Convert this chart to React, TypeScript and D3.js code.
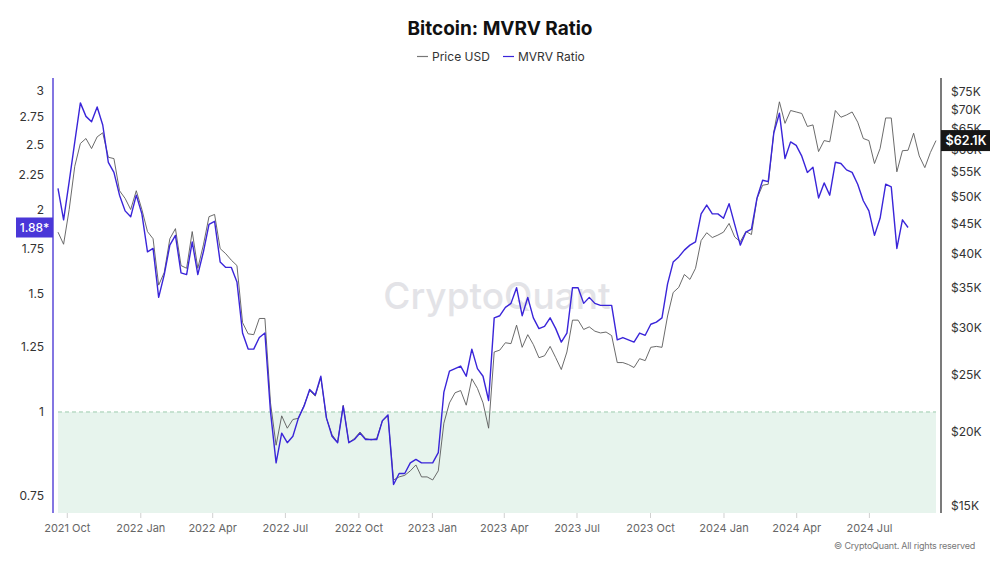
import React, { useEffect, useRef } from 'react'
import * as d3 from 'd3'

const W = 1000
const H = 563

// weekly samples, first one on this date
const startDate = '2021-09-20'
const stepDays = 7

const mvrvRatio = [
  2.15, 1.93, 2.20, 2.52, 2.88, 2.75, 2.70, 2.84, 2.67, 2.35,
  2.27, 2.10, 1.99, 1.95, 2.10, 1.97, 1.73, 1.75, 1.48, 1.60,
  1.77, 1.83, 1.61, 1.60, 1.79, 1.60, 1.73, 1.90, 1.92, 1.67,
  1.64, 1.64, 1.56, 1.31, 1.24, 1.24, 1.29, 1.31, 1.00, 0.84,
  0.93, 0.90, 0.92, 0.98, 1.02, 1.08, 1.06, 1.13, 0.98, 0.92,
  0.90, 1.02, 0.90, 0.91, 0.93, 0.91, 0.91, 0.91, 0.97, 0.99,
  0.78, 0.81, 0.81, 0.84, 0.85, 0.84, 0.84, 0.84, 0.87, 1.07,
  1.15, 1.16, 1.17, 1.13, 1.24, 1.16, 1.13, 1.04, 1.38, 1.39,
  1.43, 1.45, 1.53, 1.39, 1.48, 1.38, 1.33, 1.34, 1.38, 1.33,
  1.27, 1.31, 1.53, 1.53, 1.45, 1.48, 1.45, 1.44, 1.44, 1.44,
  1.28, 1.29, 1.28, 1.27, 1.31, 1.30, 1.35, 1.36, 1.38, 1.55,
  1.67, 1.70, 1.74, 1.77, 1.79, 1.97, 2.03, 1.97, 1.97, 1.94,
  2.04, 1.90, 1.77, 1.85, 1.87, 2.08, 2.21, 2.20, 2.60, 2.78,
  2.38, 2.52, 2.49, 2.40, 2.27, 2.31, 2.08, 2.19, 2.10, 2.35,
  2.34, 2.29, 2.27, 2.18, 2.06, 1.99, 1.83, 1.94, 2.18, 2.16,
  1.75, 1.93, 1.88,
]

const priceUsd = [
  43500, 41500, 47500, 56200, 61400, 62600, 60200, 63000, 64000, 58200,
  57900, 51100, 49600, 47500, 51100, 47500, 43600, 42400, 35400, 37200,
  42400, 44100, 38200, 37800, 43600, 37800, 41400, 46200, 46600, 40800,
  40000, 39000, 38200, 30600, 29300, 29200, 31100, 31100, 22400, 19000,
  21300, 20300, 21000, 21100, 22200, 23500, 23000, 24700, 21100, 19800,
  19200, 22200, 19200, 19500, 20000, 19500, 19400, 19500, 20900, 21300,
  16600, 16800, 16900, 17200, 17600, 16800, 16800, 16600, 17200, 20700,
  22400, 23300, 23500, 22200, 24600, 23700, 22400, 20300, 27300, 27500,
  28300, 28200, 30300, 27800, 29200, 28100, 26700, 26900, 27900, 26700,
  25500, 27300, 30900, 30900, 29800, 30100, 29600, 29400, 29500, 29100,
  26200, 26200, 26000, 25700, 26600, 26400, 27800, 27900, 27800, 31400,
  34400, 35100, 36900, 36200, 37800, 42100, 43400, 42600, 43000, 43500,
  45000, 42700, 41900, 43600, 43100, 49600, 52200, 52400, 64200, 72200,
  66400, 69800, 69400, 69000, 65600, 66000, 59500, 62100, 61800, 69800,
  68000, 68600, 69400, 66700, 62600, 62100, 56800, 60200, 67800, 67800,
  55000, 59700, 59800, 63900, 58500, 55900, 59300, 62100,
]

const seriesNames = ['Price USD', 'MVRV Ratio']
const mvrvTicks = [0.75, 1, 1.25, 1.5, 1.75, 2, 2.25, 2.5, 2.75, 3]
const priceTicks = [15000, 20000, 25000, 30000, 35000, 40000, 45000, 50000, 55000, 60000, 65000, 70000, 75000]
const dateTicks = [
  '2021-10-01', '2022-01-01', '2022-04-01', '2022-07-01', '2022-10-01', '2023-01-01',
  '2023-04-01', '2023-07-01', '2023-10-01', '2024-01-01', '2024-04-01', '2024-07-01',
]

const FONT = 'Inter, "Open Sans", "DejaVu Sans", sans-serif'
const BLUE = '#3a25d9'
const GREY = '#5a5a5a'

const App = () => {
  const ref = useRef(null)

  useEffect(() => {
    const svg = d3.select(ref.current)
    svg.selectAll('*').remove()

    const parse = d3.timeParse('%Y-%m-%d')
    const t0 = parse(startDate)
    const dates = priceUsd.map((_, i) => d3.timeDay.offset(t0, i * stepDays))

    const plot = { left: 58, right: 936, top: 78, bottom: 513 }

    const x = d3.scaleTime()
      .domain([dates[0], dates[dates.length - 1]])
      .range([plot.left, plot.right])
    const yM = d3.scaleLog().domain([0.7076, 3.136]).range([plot.bottom, plot.top])
    const yP = d3.scaleLog().domain([14600, 79200]).range([plot.bottom, plot.top])

    svg.append('rect').attr('width', W).attr('height', H).attr('fill', '#fff')

    // title + legend
    svg.append('text')
      .attr('x', 500).attr('y', 35)
      .attr('text-anchor', 'middle')
      .style('font', `700 19px ${FONT}`)
      .attr('fill', '#111')
      .text('Bitcoin: MVRV Ratio')

    const legend = svg.append('g').style('font', `400 12px ${FONT}`)
    const legendItems = [
      { name: seriesNames[0], color: '#777', x: 417 },
      { name: seriesNames[1], color: BLUE, x: 503 },
    ]
    legendItems.forEach(d => {
      legend.append('line')
        .attr('x1', d.x).attr('x2', d.x + 11).attr('y1', 56.5).attr('y2', 56.5)
        .attr('stroke', d.color).attr('stroke-width', 1.2)
      legend.append('text')
        .attr('x', d.x + 15).attr('y', 60.5)
        .attr('fill', '#333')
        .text(d.name)
    })

    // watermark
    svg.append('text')
      .attr('x', 497).attr('y', 309)
      .attr('text-anchor', 'middle')
      .style('font', `500 37px ${FONT}`)
      .attr('fill', '#e3e3e7')
      .text('CryptoQuant')

    // zone below MVRV 1
    svg.append('rect')
      .attr('x', plot.left).attr('y', yM(1))
      .attr('width', plot.right - plot.left).attr('height', plot.bottom - yM(1))
      .attr('fill', '#e7f4ed')
    svg.append('line')
      .attr('x1', plot.left).attr('x2', plot.right)
      .attr('y1', yM(1)).attr('y2', yM(1))
      .attr('stroke', '#93c6a6').attr('stroke-width', 0.9)
      .attr('stroke-dasharray', '4,3')

    // x axis
    const xAxis = svg.append('g')
      .attr('transform', `translate(0, ${plot.bottom})`)
      .call(d3.axisBottom(x)
        .tickValues(dateTicks.map(parse))
        .tickFormat(d3.timeFormat('%Y %b'))
        .tickSize(5)
        .tickPadding(6))
    xAxis.select('.domain').remove()
    xAxis.selectAll('line').attr('stroke', '#d0d0d0')
    xAxis.selectAll('text').style('font', `400 11px ${FONT}`).attr('fill', '#666')

    // left axis
    const leftAxis = svg.append('g')
      .attr('transform', 'translate(53, 0)')
      .call(d3.axisLeft(yM).tickValues(mvrvTicks).tickFormat(d3.format('')).tickSize(0).tickPadding(9))
    leftAxis.select('.domain').remove()
    leftAxis.selectAll('text').style('font', `400 12px ${FONT}`).attr('fill', '#333')
    svg.append('line')
      .attr('x1', 53).attr('x2', 53).attr('y1', plot.top).attr('y2', plot.bottom)
      .attr('stroke', '#5a48d8').attr('stroke-width', 1.5)

    // right axis
    const rightAxis = svg.append('g')
      .attr('transform', 'translate(941, 0)')
      .call(d3.axisRight(yP).tickValues(priceTicks).tickFormat(v => `$${v / 1000}K`).tickSize(0).tickPadding(10))
    rightAxis.select('.domain').remove()
    rightAxis.selectAll('text').style('font', `400 12px ${FONT}`).attr('fill', '#333')
    svg.append('line')
      .attr('x1', 941).attr('x2', 941).attr('y1', plot.top).attr('y2', plot.bottom)
      .attr('stroke', '#222').attr('stroke-width', 1.2)

    // lines
    const priceLine = d3.line()
      .x((_, i) => x(dates[i]))
      .y(d => yP(d))
    const mvrvLine = d3.line()
      .x((_, i) => x(dates[i]))
      .y(d => yM(d))

    svg.append('path')
      .datum(priceUsd)
      .attr('d', priceLine)
      .attr('fill', 'none')
      .attr('stroke', GREY)
      .attr('stroke-width', 0.9)
      .attr('stroke-linejoin', 'round')

    svg.append('path')
      .datum(mvrvRatio)
      .attr('d', mvrvLine)
      .attr('fill', 'none')
      .attr('stroke', BLUE)
      .attr('stroke-width', 1.4)
      .attr('stroke-linejoin', 'round')

    // current value badges
    const lastM = mvrvRatio[mvrvRatio.length - 1]
    const lastP = priceUsd[priceUsd.length - 1]

    const mBadge = svg.append('g').attr('transform', `translate(16, ${yM(lastM) - 10})`)
    mBadge.append('rect').attr('width', 37).attr('height', 20).attr('fill', '#4a37d8')
    mBadge.append('text')
      .attr('x', 18.5).attr('y', 14.5)
      .attr('text-anchor', 'middle')
      .style('font', `500 12px ${FONT}`)
      .attr('fill', '#fff')
      .text(`${lastM.toFixed(2)}*`)

    const pBadge = svg.append('g').attr('transform', `translate(941, ${yP(lastP) - 10.5})`)
    pBadge.append('rect').attr('width', 49).attr('height', 21).attr('fill', '#161616')
    pBadge.append('text')
      .attr('x', 25).attr('y', 15)
      .attr('text-anchor', 'middle')
      .style('font', `600 12.5px ${FONT}`)
      .attr('fill', '#fff')
      .text(`$${(lastP / 1000).toFixed(1)}K`)

    // footer
    svg.append('text')
      .attr('x', 975).attr('y', 549)
      .attr('text-anchor', 'end')
      .style('font', `400 9px ${FONT}`)
      .attr('letter-spacing', '-0.2')
      .attr('fill', '#777')
      .text('© CryptoQuant. All rights reserved')
  }, [])

  return (
    <svg
      ref={ref}
      width={W}
      height={H}
      style={{ position: 'absolute', left: 0, top: 0, display: 'block' }}
    />
  )
}

export default App
